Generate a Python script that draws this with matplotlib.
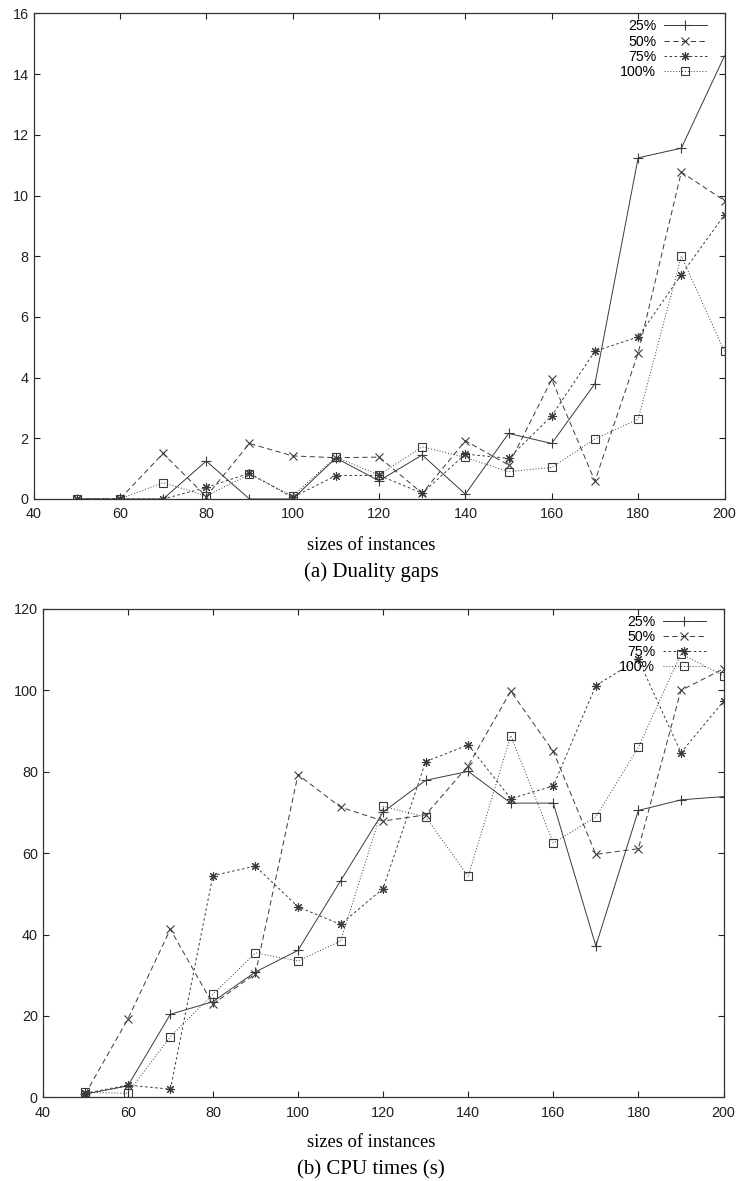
import matplotlib
matplotlib.use('Agg')
import matplotlib.pyplot as plt

sizes = [50, 60, 70, 80, 90, 100, 110, 120, 130, 140, 150, 160, 170, 180, 190, 200]
labels = ['25%', '50%', '75%', '100%']

# (a) duality gaps
gap_25 = [0, 0, 0, 1.25, 0, 0, 1.35, 0.6, 1.45, 0.16, 2.16, 1.83, 3.8, 11.24, 11.56, 14.6]
gap_50 = [0, 0, 1.5, 0.08, 1.83, 1.42, 1.36, 1.38, 0.19, 1.92, 1.12, 3.94, 0.59, 4.81, 10.77, 9.83]
gap_75 = [0, 0, 0, 0.38, 0.85, 0.05, 0.77, 0.78, 0.19, 1.48, 1.34, 2.74, 4.87, 5.34, 7.39, 9.36]
gap_100 = [0, 0, 0.54, 0.1, 0.81, 0.1, 1.38, 0.79, 1.72, 1.37, 0.9, 1.04, 1.98, 2.63, 8.0, 4.87]

# (b) CPU times
cpu_25 = [0.8, 2.8, 20.4, 23.5, 30.8, 36.1, 53.2, 70.1, 77.9, 80.1, 72.3, 72.3, 37.2, 70.5, 73.1, 73.9]
cpu_50 = [0.8, 19.2, 41.3, 22.9, 30.4, 79.3, 71.3, 67.9, 69.4, 81.5, 99.8, 85.0, 59.7, 61.1, 100.0, 105.3]
cpu_75 = [1.0, 3.0, 2.0, 54.5, 56.8, 46.8, 42.5, 51.3, 82.5, 86.6, 73.4, 76.5, 101.2, 107.6, 84.7, 97.3]
cpu_100 = [1.2, 1.0, 14.9, 25.3, 35.5, 33.5, 38.4, 71.5, 68.9, 54.3, 88.9, 62.5, 68.9, 86.0, 109.0, 103.6]

styles = [
    dict(linestyle='-', marker='+', markersize=6.5),
    dict(linestyle=(0, (5.5, 3.5)), marker='x', markersize=5.5),
    dict(linestyle=(0, (2.6, 2.6)), marker=(8, 2, 0), markersize=6.5),
    dict(linestyle=(0, (1.0, 2.0)), marker='s', markersize=5.5, markerfacecolor='none'),
]
col = '#3a3a3a'

sans = ['Liberation Sans', 'DejaVu Sans']
serif = ['Liberation Serif', 'DejaVu Serif']

fig = plt.figure(figsize=(7.42, 11.81), dpi=100)
ax1 = fig.add_axes([33.5 / 742, 1 - 499 / 1181, 691 / 742, 485.6 / 1181])
ax2 = fig.add_axes([42.7 / 742, 1 - 1097.3 / 1181, 680.8 / 742, 488.3 / 1181])


def draw(ax, series, ymax, ystep):
    for vals, lab, st in zip(series, labels, styles):
        ax.plot(sizes, vals, color=col, lw=0.7, mew=0.8, label=lab, **st)
    ax.set_xlim(40, 200)
    ax.set_ylim(0, ymax)
    ax.set_xticks(range(40, 201, 20))
    ax.set_yticks(range(0, ymax + 1, ystep))
    ax.tick_params(direction='in', length=4.5, width=0.8, top=True, right=True,
                   labelsize=10.4, colors='#222222')
    ax.tick_params(axis='x', pad=6)
    for lbl in ax.get_xticklabels() + ax.get_yticklabels():
        lbl.set_family(sans)
    for s in ax.spines.values():
        s.set_linewidth(0.9)
        s.set_color('#333333')
    w, h = ax.bbox.width, ax.bbox.height
    # markerfirst=False right-aligns the labels, as gnuplot does
    ax.legend(loc='upper right', bbox_to_anchor=(1 - 18 / w, 1 - 6 / h),
              frameon=False, markerfirst=False, borderpad=0, borderaxespad=0,
              handlelength=3.0, handletextpad=0.55, labelspacing=0.08,
              prop={'family': sans, 'size': 10.2})


draw(ax1, [gap_25, gap_50, gap_75, gap_100], 16, 2)
draw(ax2, [cpu_25, cpu_50, cpu_75, cpu_100], 120, 20)

fig.text(0.5, 1 - 545 / 1181, 'sizes of instances', ha='center', va='center',
         family=serif, fontsize=13.3)
fig.text(0.5, 1 - 571.7 / 1181, '(a) Duality gaps', ha='center', va='center',
         family=serif, fontsize=15)
fig.text(0.5, 1 - 1142.7 / 1181, 'sizes of instances', ha='center', va='center',
         family=serif, fontsize=13.3)
fig.text(0.5, 1 - 1170 / 1181, '(b) CPU times (s)', ha='center', va='center',
         family=serif, fontsize=15)

fig.savefig('out.png', dpi=100)
